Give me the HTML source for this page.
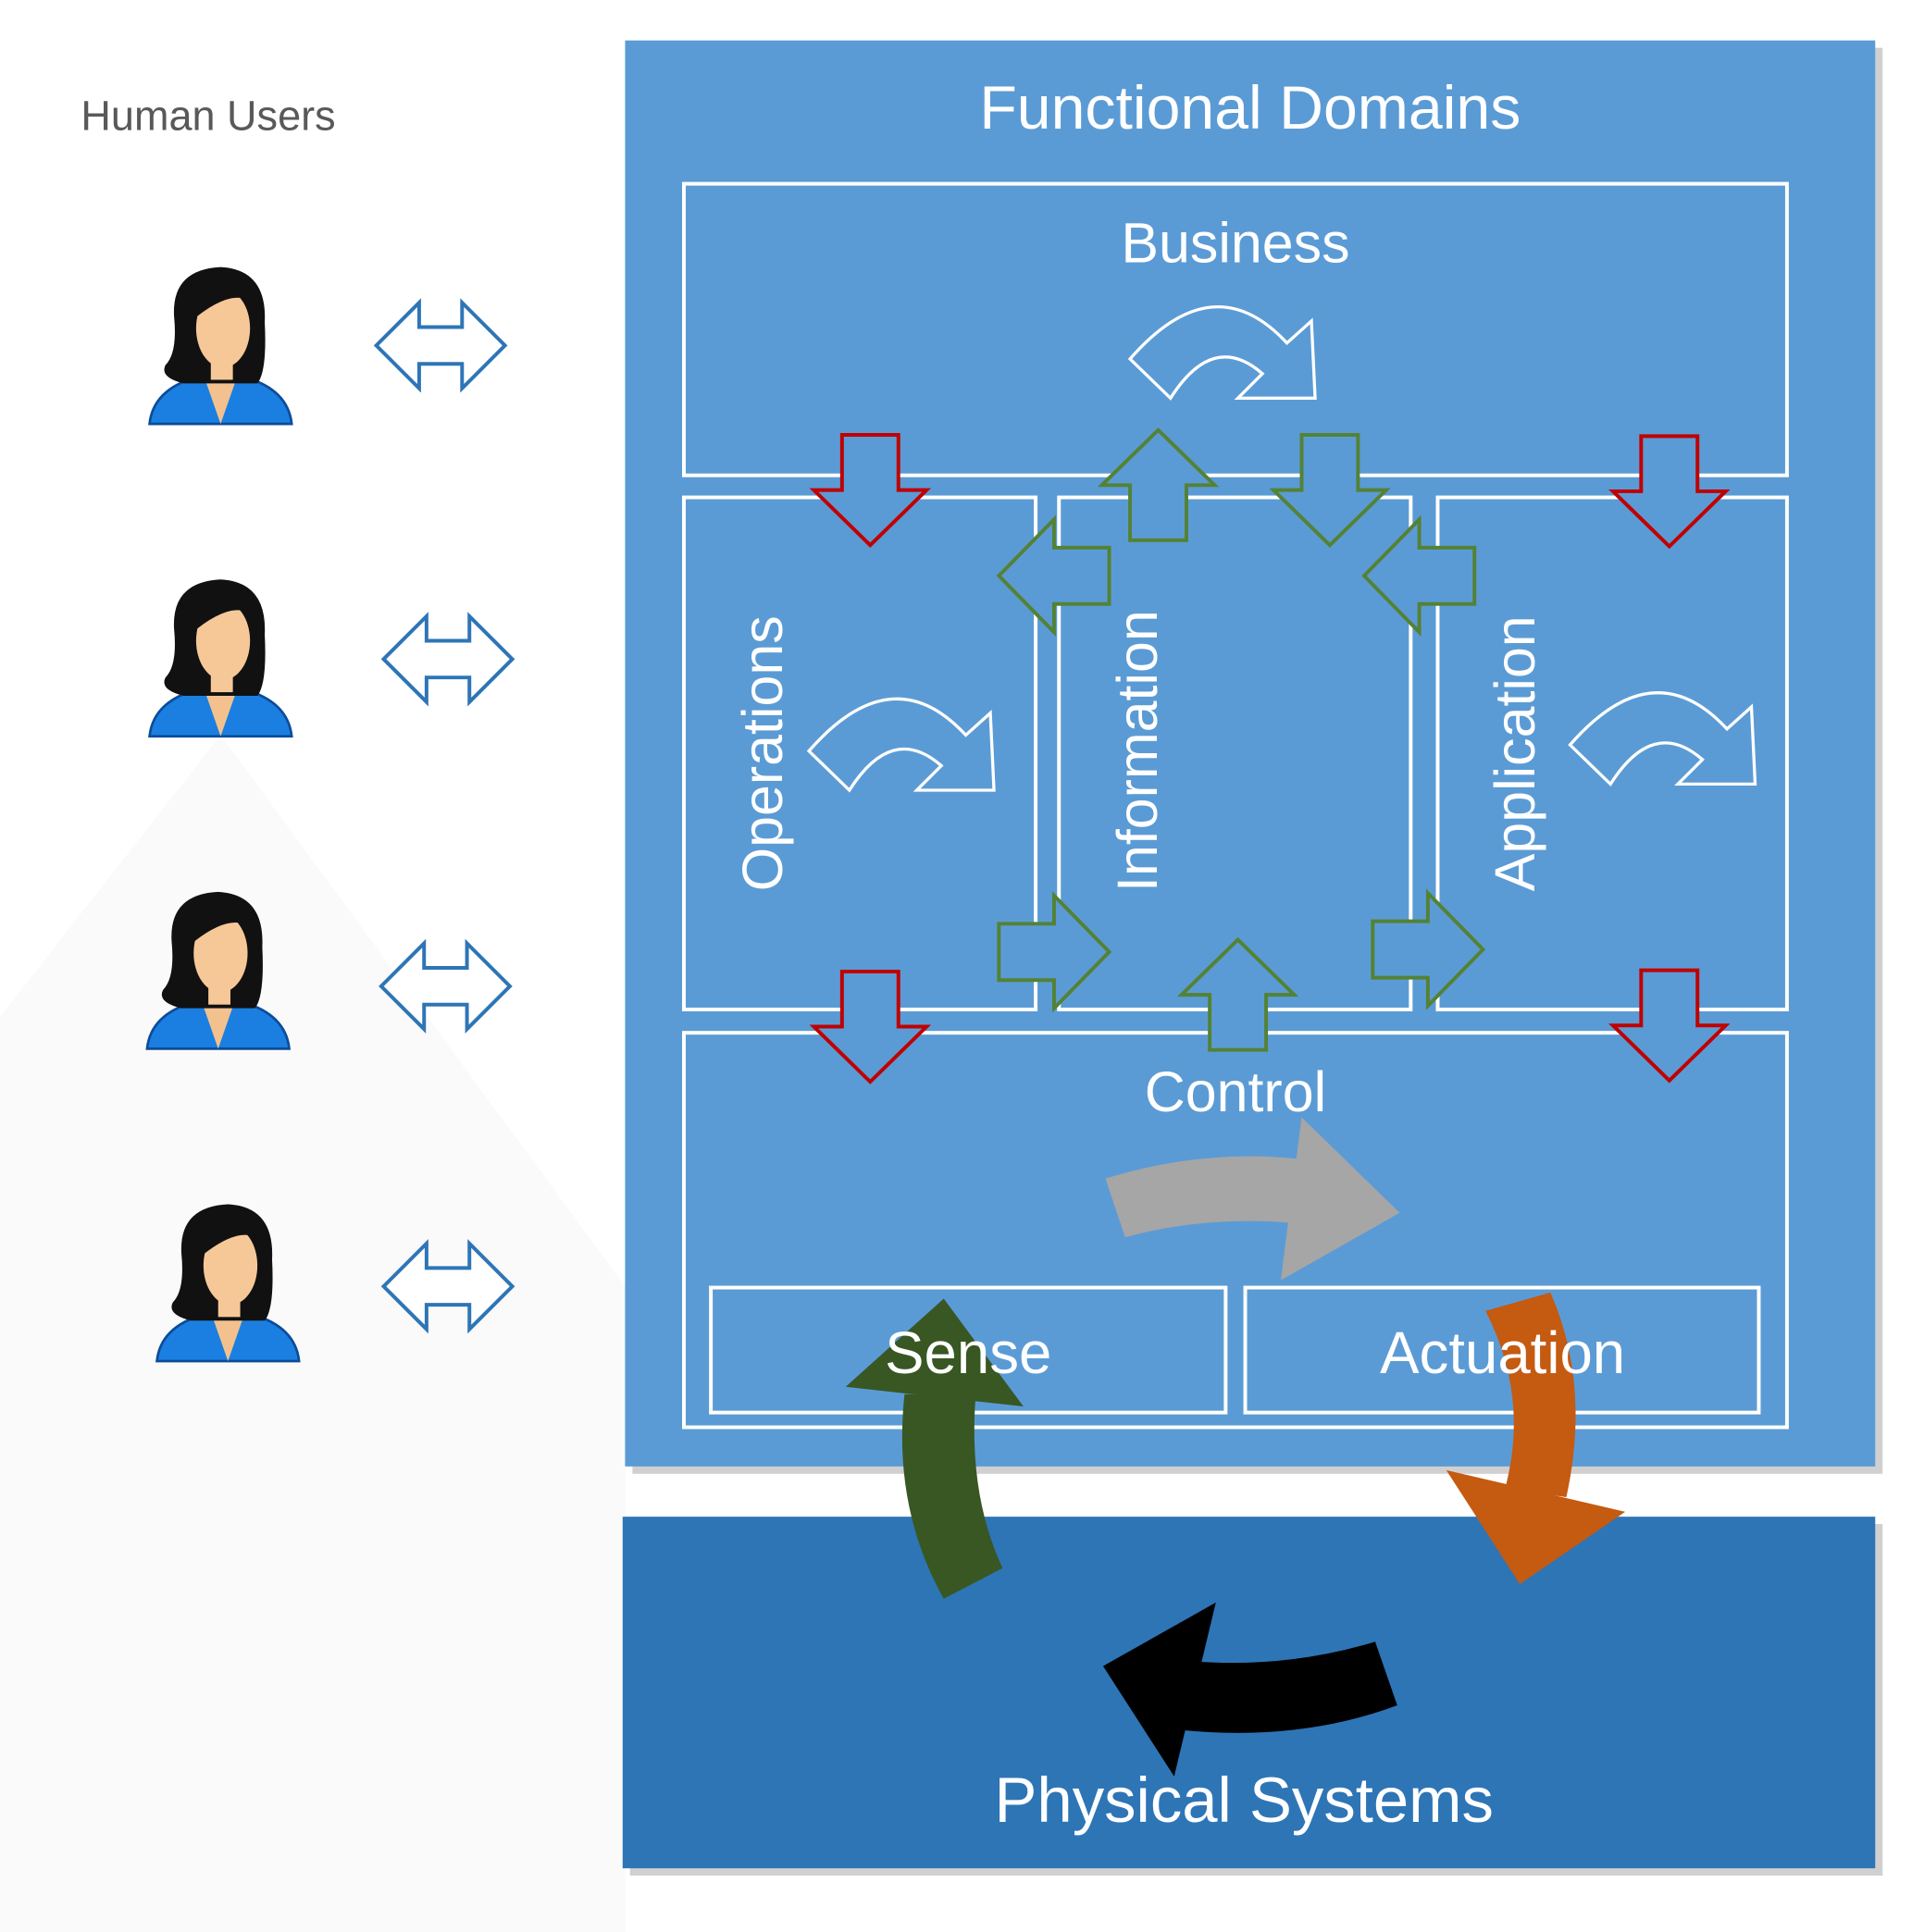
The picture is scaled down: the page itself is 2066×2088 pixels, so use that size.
<!DOCTYPE html>
<html><head><meta charset="utf-8"><style>
html,body{margin:0;padding:0;background:#fff;}
svg{display:block;}
text{font-family:"Liberation Sans",sans-serif;}
</style></head><body>
<svg width="2066" height="2088" viewBox="0 0 1560 1577" preserveAspectRatio="none" xmlns="http://www.w3.org/2000/svg">
<defs>
<g id="dbl"><polygon points="0,35 35,0 35,20 70,20 70,0 105,35 70,70 70,50 35,50 35,70" fill="#fff" stroke="#2e75b6" stroke-width="3" stroke-linejoin="miter"/></g>
<g id="person">
<path d="M-58,118 Q-55,90 -20,80 L20,80 Q55,90 58,118 Z" fill="#1a7fe0" stroke="#0b4c9a" stroke-width="2"/>
<path d="M-14,78 L0,118 L14,78 Z" fill="#f3c18e"/>
<path d="M-38,30 Q-40,-8 0,-10 Q38,-8 36,35 Q38,75 30,85 L-30,85 Q-50,80 -45,70 Q-35,60 -38,30 Z" fill="#111"/>
<ellipse cx="2" cy="40" rx="22" ry="32" fill="#f6c898"/>
<path d="M-25,15 Q0,-5 28,20 Q10,5 -25,35 Z" fill="#111"/>
<rect x="-8" y="68" width="18" height="14" fill="#f6c898"/>
</g>
<g id="curv"><path d="M0,48 Q68,-30 128,35 L148,17 L151,80 L88,80 L108,60 Q68,25 33,80 Z" fill="none" stroke="#fff" stroke-width="2.5" stroke-linejoin="miter"/></g>
<g id="dn"><polygon points="-23,0 23,0 23,45 46,45 0,90 -46,45 -23,45" stroke-width="3" stroke-linejoin="miter"/></g>
</defs>
<polygon points="180,600 510,1050 510,1577 0,1577 0,830" fill="#fafafa"/>
<rect x="516" y="39" width="1020" height="1164" fill="#d0d0d0"/>
<rect x="510" y="33" width="1020" height="1164" fill="#5b9bd5"/>
<rect x="514" y="1244" width="1022" height="287" fill="#d0d0d0"/>
<rect x="508" y="1238" width="1022" height="287" fill="#2e75b6"/>
<text x="1020" y="105" font-size="50" fill="#fff" text-anchor="middle">Functional Domains</text>
<text x="66" y="106" font-size="34" fill="#595959">Human Users</text>
<g fill="none" stroke="#fff" stroke-width="3">
<rect x="558" y="150" width="900" height="238"/>
<rect x="558" y="406" width="287" height="418"/>
<rect x="864" y="406" width="287" height="418"/>
<rect x="1173" y="406" width="285" height="418"/>
<rect x="558" y="843" width="900" height="322"/>
<rect x="580" y="1051" width="420" height="102"/>
<rect x="1016" y="1051" width="419" height="102"/>
</g>
<text x="1008" y="214" font-size="46" fill="#fff" text-anchor="middle">Business</text>
<text x="1008" y="907" font-size="46" fill="#fff" text-anchor="middle">Control</text>
<text transform="translate(638,615) rotate(-90)" font-size="46" fill="#fff" text-anchor="middle">Operations</text>
<text transform="translate(944,613) rotate(-90)" font-size="46" fill="#fff" text-anchor="middle">Information</text>
<text transform="translate(1252,615) rotate(-90)" font-size="46" fill="#fff" text-anchor="middle">Application</text>
<use href="#curv" x="922" y="245"/>
<use href="#curv" x="660" y="565"/>
<use href="#curv" x="1281" y="560"/>
<g fill="#5b9bd5" stroke="#c00000">
<use href="#dn" x="710" y="355"/>
<use href="#dn" x="1362" y="356"/>
<use href="#dn" x="710" y="793"/>
<use href="#dn" x="1362" y="792"/>
</g>
<g fill="#5b9bd5" stroke="#548235">
<use href="#dn" transform="translate(945,441) rotate(180)"/>
<use href="#dn" x="1085" y="355"/>
<use href="#dn" transform="translate(1010,857) rotate(180)"/>
<use href="#dn" transform="translate(905,470) rotate(90)"/>
<use href="#dn" transform="translate(1203,470) rotate(90)"/>
<use href="#dn" transform="translate(815,777) rotate(-90)"/>
<use href="#dn" transform="translate(1120,775) rotate(-90)"/>
</g>
<path d="M902,962 Q990,935 1075,948 L1072,1000 Q990,990 918,1010 Z" fill="#a6a6a6"/>
<path d="M1062,912 L1142,990 L1045,1045 Z" fill="#a6a6a6"/>
<path d="M738,1138 Q728,1230 770,1305 L818,1280 Q790,1220 796,1140 Z" fill="#385723"/>
<path d="M770,1060 L690,1132 L835,1148 Z" fill="#385723"/>
<path d="M1212,1070 Q1248,1140 1228,1215 L1278,1222 Q1298,1130 1265,1055 Z" fill="#c55a11"/>
<path d="M1180,1200 L1326,1234 L1240,1293 Z" fill="#c55a11"/>
<path d="M1122,1340 Q1050,1362 972,1356 L962,1412 Q1060,1422 1140,1392 Z" fill="#000"/>
<path d="M992,1308 L900,1360 L958,1450 Z" fill="#000"/>
<text x="790" y="1121" font-size="48" fill="#fff" text-anchor="middle">Sense</text>
<text x="1226" y="1121" font-size="48" fill="#fff" text-anchor="middle">Actuation</text>
<text x="1015" y="1487" font-size="52" fill="#fff" text-anchor="middle">Physical Systems</text>
<use href="#person" x="180" y="228"/>
<use href="#person" x="180" y="483"/>
<use href="#person" x="178" y="738"/>
<use href="#person" x="186" y="993"/>
<use href="#dbl" x="307" y="247"/>
<use href="#dbl" x="313" y="503"/>
<use href="#dbl" x="311" y="770"/>
<use href="#dbl" x="313" y="1015"/>
</svg>
</body></html>
